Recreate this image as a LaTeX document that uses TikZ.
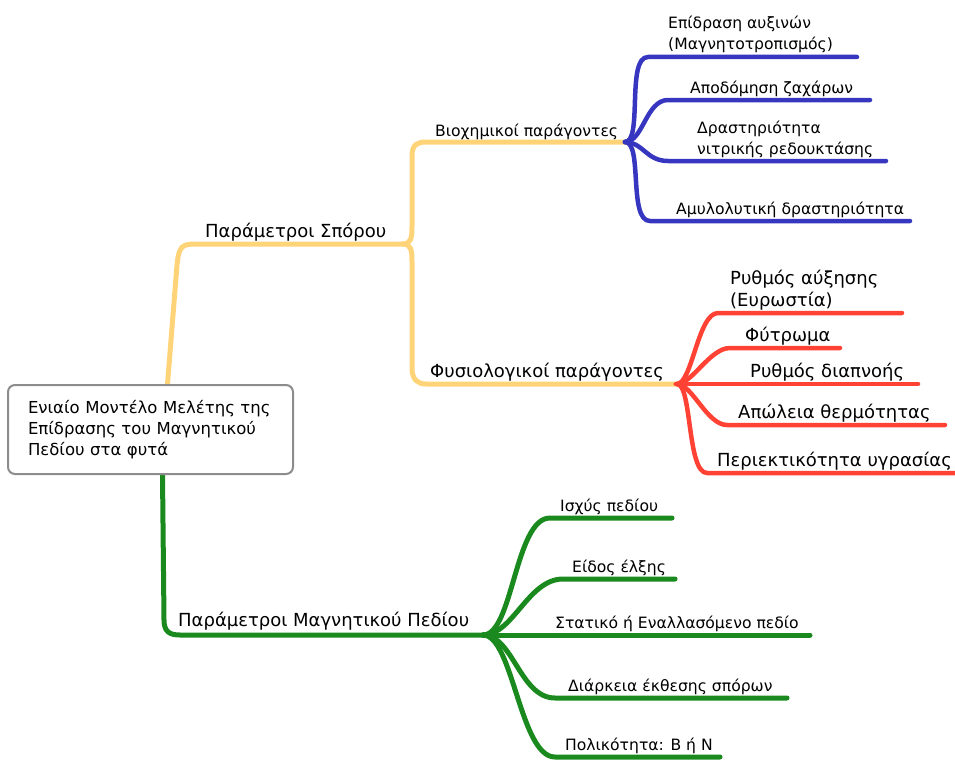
\documentclass[tikz,border=0pt]{standalone}
\usepackage{fontspec}
\setmainfont{DejaVu Sans}

\definecolor{seedcol}{RGB}{255,212,121}
\definecolor{biocol}{RGB}{54,54,192}
\definecolor{physcol}{RGB}{255,66,52}
\definecolor{fieldcol}{RGB}{26,138,30}

\pgfdeclarelayer{background}
\pgfsetlayers{background,main}

\tikzset{
  branch/.style={line width=4.5pt, line cap=round, line join=round},
  seedline/.style={branch, seedcol, line width=5pt},
  bioline/.style={branch, biocol},
  physline/.style={branch, physcol},
  fieldline/.style={branch, fieldcol, line width=5pt},
  leaf/.style={inner sep=0pt, anchor=base west, align=left, font=\fontsize{15.6}{21}\selectfont},
  bigleaf/.style={leaf, font=\fontsize{18}{22}\selectfont},
  headleaf/.style={leaf, font=\fontsize{18}{22}\selectfont},
  rootbox/.style={draw=gray!90, line width=2pt, rounded corners=7pt, fill=white,
    minimum width=285pt, minimum height=89pt, text width=245pt, inner xsep=20pt,
    align=left, font=\fontsize{16.5}{21}\selectfont}
}

\begin{document}
\begin{tikzpicture}[x=1pt,y=-1pt]
\useasboundingbox (0,0) rectangle (955,760);

% central box
\node[rootbox] (root) at (150.5,429.5) {Ενιαίο Μοντέλο Μελέτης της\\Επίδρασης του Μαγνητικού\\Πεδίου στα φυτά};

% hubs
\coordinate (seed) at (403,244);
\coordinate (bio) at (625,142);
\coordinate (phys) at (677,384);
\coordinate (field) at (483,635);

% main branches
\node[headleaf] (seedlbl) at (205,237) {Παράμετροι Σπόρου};
\node[headleaf] (fieldlbl) at (178,626) {Παράμετροι Μαγνητικού Πεδίου};
\node[leaf] (biolbl) at (435,136) {Βιοχημικοί παράγοντες};
\node[bigleaf] (physlbl) at (430,377) {Φυσιολογικοί παράγοντες};

\begin{pgfonlayer}{background}
\draw[seedline] ([xshift=17pt]root.north) -- (177,265) .. controls (179,247) and (181,244) .. (196,244) -- (seed);
\draw[seedline] (seed) .. controls +(8,0) and +(0,12) .. (412,226) -- (412,156) .. controls +(0,-12) and +(-8,0) .. (426,142) -- (bio);
\draw[seedline] (seed) .. controls +(8,0) and +(0,-12) .. (412,262) -- (412,368) .. controls +(0,12) and +(-8,0) .. (426,384) -- (phys);
\draw[fieldline] ([xshift=12pt]root.south) -- (164,620) .. controls +(0,12) and +(-10,0) .. (180,635) -- (field);
\end{pgfonlayer}

% biochemical factors
\foreach \n/\y/\xa/\xb/\xt/\txt in {
  b1/57/648/857/668/{Επίδραση αυξινών\\(Μαγνητοτροπισμός)},
  b2/100/668/870/690/{Αποδόμηση ζαχάρων},
  b3/161/668/886/697/{Δραστηριότητα\\νιτρικής ρεδουκτάσης},
  b4/221/650/910/676/{Αμυλολυτική δραστηριότητα}}{
  \coordinate (\n a) at (\xa,\y);
  \coordinate (\n b) at (\xb,\y);
  \draw[bioline] (bio) .. controls +(18,0) and +(-22,0) .. (\n a) -- (\n b);
  \node[leaf] (\n) at (\xt,\y-7) {\txt};
}

% physiological factors
\foreach \n/\y/\xa/\xb/\xt/\txt in {
  p1/313/718/902/730/{Ρυθμός αύξησης\\(Ευρωστία)},
  p2/348/730/840/745/{Φύτρωμα},
  p3/384/683/918/750/{Ρυθμός διαπνοής},
  p4/425/727/945/738/{Απώλεια θερμότητας},
  p5/473/707/958/717/{Περιεκτικότητα υγρασίας}}{
  \coordinate (\n a) at (\xa,\y);
  \coordinate (\n b) at (\xb,\y);
  \draw[physline] (phys) .. controls +(15,0) and +(-20,0) .. (\n a) -- (\n b);
  \node[bigleaf] (\n) at (\xt,\y-7) {\txt};
}

% magnetic field parameters
\foreach \n/\y/\xa/\xb/\xt/\txt in {
  f1/518/550/672/560/{Ισχύς πεδίου},
  f2/579/563/675/572/{Είδος έλξης},
  f3/635/520/810/555/{Στατικό ή Εναλλασόμενο πεδίο},
  f4/698/555/787/568/{Διάρκεια έκθεσης σπόρων},
  f5/757/555/720/565/{Πολικότητα: Β ή Ν}}{
  \coordinate (\n a) at (\xa,\y);
  \coordinate (\n b) at (\xb,\y);
  \draw[fieldline] (field) .. controls +(30,0) and +(-35,0) .. (\n a) -- (\n b);
  \node[leaf] (\n) at (\xt,\y-7) {\txt};
}
\end{tikzpicture}
\end{document}
